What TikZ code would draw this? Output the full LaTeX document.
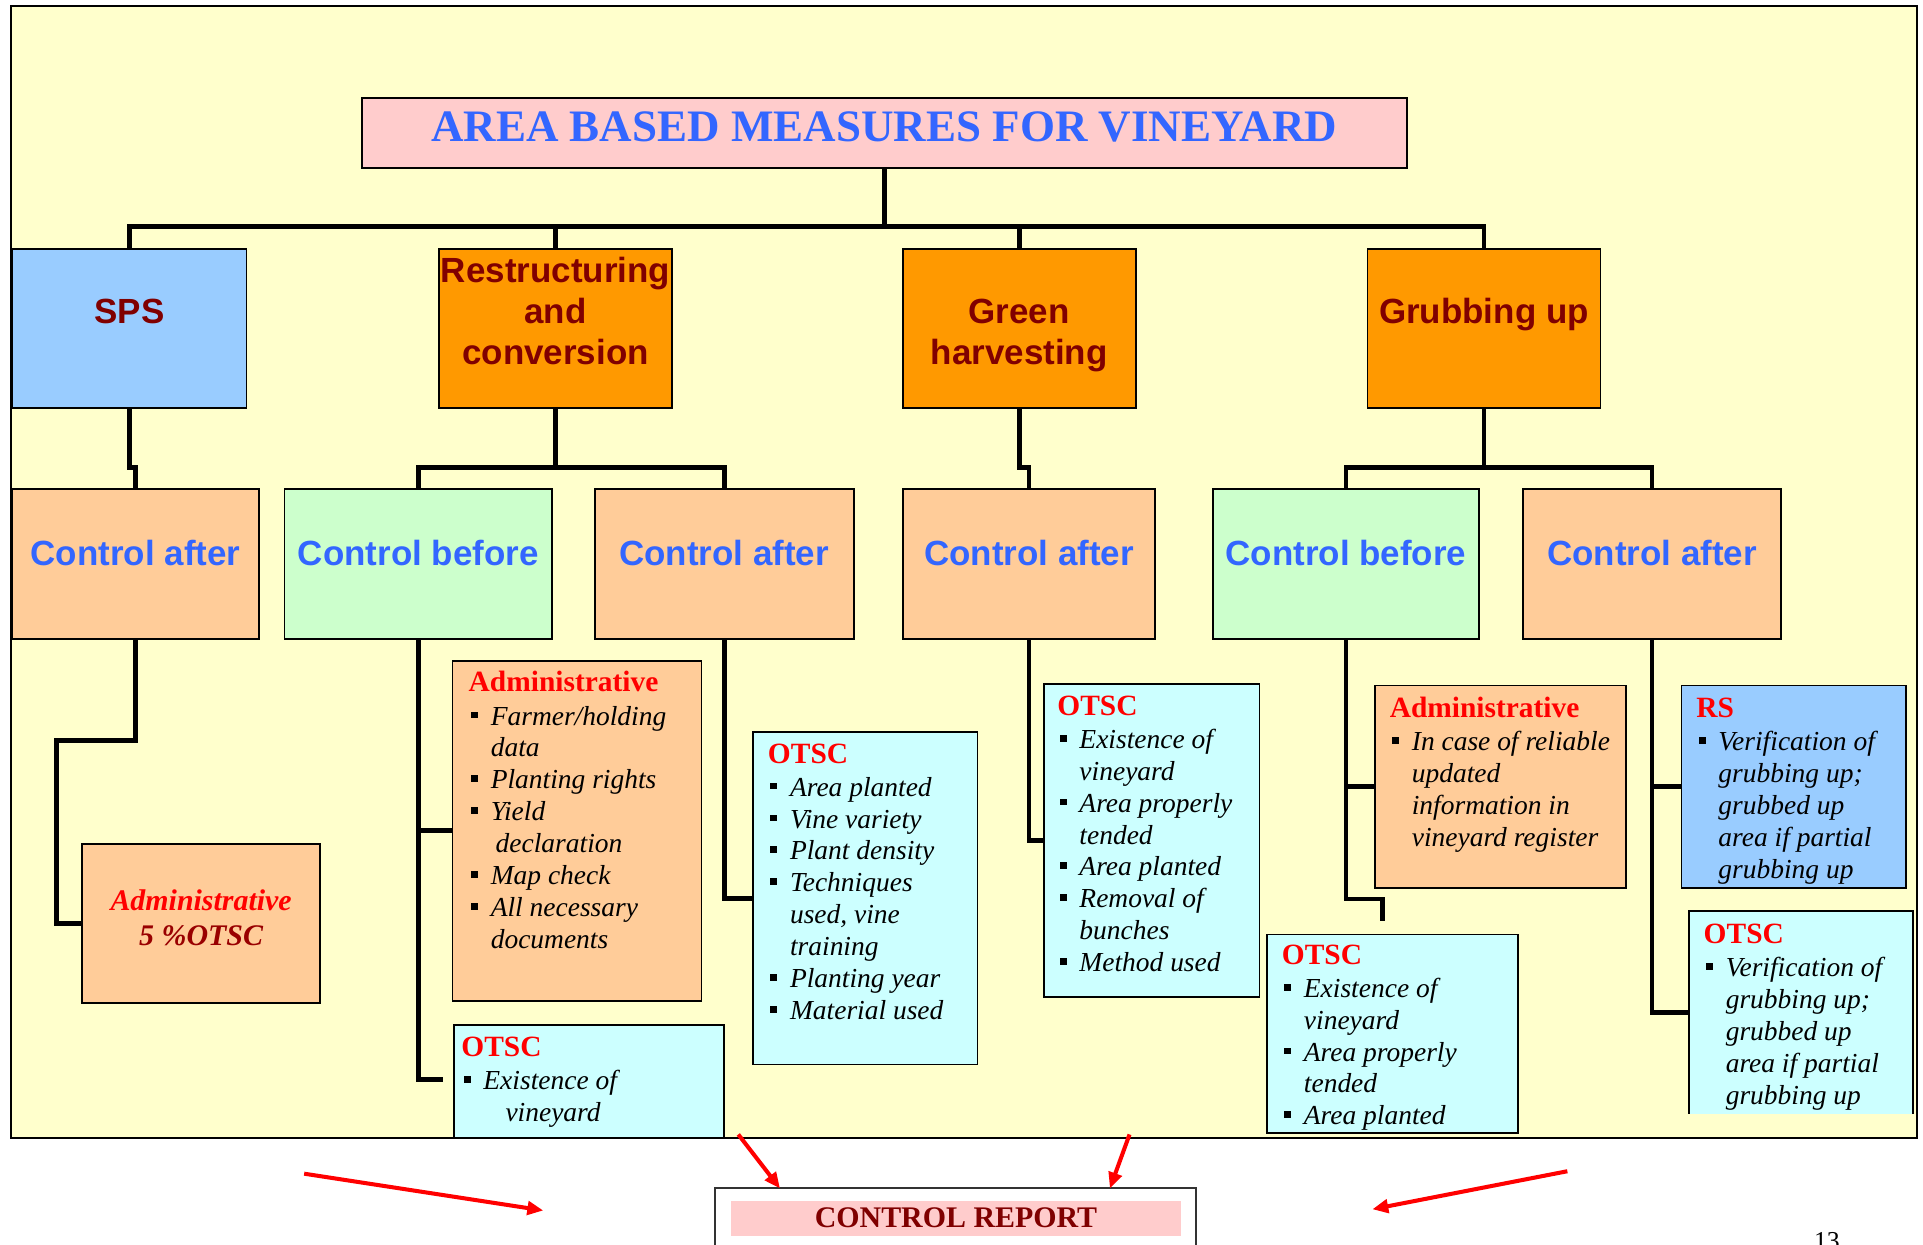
\documentclass[tikz,border=0pt]{standalone}
\usepackage{fontspec}
\setmainfont{Liberation Serif}
\newfontfamily\arialf{Liberation Sans}
\usetikzlibrary{arrows.meta}
\definecolor{bgy}{HTML}{FFFFCC}
\definecolor{pinkc}{HTML}{FFCCCC}
\definecolor{titleblue}{HTML}{3366FF}
\definecolor{skyc}{HTML}{99CCFF}
\definecolor{orangec}{HTML}{FF9900}
\definecolor{peachc}{HTML}{FFCC99}
\definecolor{mintc}{HTML}{CCFFCC}
\definecolor{cyanc}{HTML}{CCFFFF}
\definecolor{darkredc}{HTML}{800000}
\definecolor{darkredb}{HTML}{990000}
\definecolor{hdrred}{HTML}{FF0000}
\newcommand{\bul}{\makebox[18pt][l]{\hspace{2pt}\rule[5.5pt]{5.5pt}{5.5pt}}}
\newcommand{\ind}[1][18pt]{\hspace*{#1}}
\newcommand{\hdr}[1]{{\fontsize{24}{26}\selectfont\bfseries\upshape\color{hdrred}\rule{0pt}{18pt}#1}}
\newcommand{\bx}[6]{\node[#6, minimum width={(#4-#2)*1pt}, minimum height={(#5-#3)*1pt}] (#1) at ({(#2+#4)/2},{(#3+#5)/2}) {};}
\tikzset{
  bxs/.style={draw=black, line width=1.5pt, inner sep=0pt, outer sep=0pt},
  plain/.style={inner sep=0pt, outer sep=0pt},
  conn/.style={draw=black, line width=4pt},
  redarrow/.style={draw=red, line width=3.3pt, -{Triangle[length=13pt,width=11pt]}},
  lonet/.style={inner sep=0pt, align=center, text=darkredc, font=\arialf\fontsize{28.5}{33.5}\selectfont\bfseries},
  ltwot/.style={inner sep=0pt, anchor=base, text=titleblue, font=\arialf\fontsize{28.5}{33.5}\selectfont\bfseries},
  itx/.style={anchor=north west, align=left, inner sep=0pt, font=\fontsize{22.4}{26}\selectfont\itshape},
}
\begin{document}
\begin{tikzpicture}[x=1pt,y=-1pt]
\useasboundingbox (0,0) rectangle (1568,1015);
\clip (0,0) rectangle (1568,1015);
\fill[white] (0,0) rectangle (1568,1015);
% frame
\bx{frame}{9}{5}{1563}{928}{plain, fill=bgy}
% title
\bx{title}{295}{80}{1147}{137}{bxs, fill=pinkc}
\node[anchor=base, inner sep=0pt, text=titleblue, font=\fontsize{36.7}{40}\selectfont\bfseries] (titleT) at (721,115) {AREA BASED MEASURES FOR VINEYARD};
% level 1
\bx{sps}{10}{203}{201}{333}{bxs, fill=skyc}
\bx{rest}{358}{203}{548}{333}{bxs, fill=orangec}
\bx{green}{736}{203}{926}{333}{bxs, fill=orangec}
\bx{grub}{1115}{203}{1305}{333}{bxs, fill=orangec}
\node[lonet, anchor=base] (spsT) at (105.5,263.5) {SPS};
\node[lonet, anchor=north] (restT) at (453,208) {\rule{0pt}{22pt}Restructuring\\and\\conversion};
\node[lonet, anchor=north] (greenT) at (831,241.5) {\rule{0pt}{22pt}Green\\harvesting};
\node[lonet, anchor=base] (grubT) at (1210,263.5) {Grubbing up};
% level 2
\bx{caS}{10}{399}{211}{521}{bxs, fill=peachc}
\bx{cbR}{232}{399}{450}{521}{bxs, fill=mintc}
\bx{caR}{485}{399}{696}{521}{bxs, fill=peachc}
\bx{caG}{736}{399}{942}{521}{bxs, fill=peachc}
\bx{cbU}{989}{399}{1206}{521}{bxs, fill=mintc}
\bx{caU}{1242}{399}{1452}{521}{bxs, fill=peachc}
\node[ltwot] (caST) at (caS.center |- 0,461) {Control after};
\node[ltwot] (cbRT) at (cbR.center |- 0,461) {Control before};
\node[ltwot] (caRT) at (caR.center |- 0,461) {Control after};
\node[ltwot] (caGT) at (caG.center |- 0,461) {Control after};
\node[ltwot] (cbUT) at (cbU.center |- 0,461) {Control before};
\node[ltwot] (caUT) at (caU.center |- 0,461) {Control after};
% level 3 boxes
\bx{admS}{67}{688}{261}{818}{bxs, fill=peachc}
\bx{admR}{369}{539}{572}{816}{bxs, fill=peachc}
\bx{otR1}{370}{836}{590}{928}{bxs, fill=cyanc}
\bx{otR2}{614}{597}{797}{868}{bxs, fill=cyanc}
\bx{otG}{851}{558}{1027}{813}{bxs, fill=cyanc}
\bx{admU}{1121}{559}{1326}{724}{bxs, fill=peachc}
\bx{otU1}{1033}{762}{1238}{924}{bxs, fill=cyanc}
\bx{rsU}{1371}{559}{1554}{724}{bxs, fill=skyc}
\bx{otU2}{1377}{743}{1560}{908}{plain, fill=cyanc}
\draw[line width=1.5pt] (otU2.south west) -- (otU2.north west) -- (otU2.north east) -- (otU2.south east);
% level 3 texts
\node[anchor=north, align=center, inner sep=0pt, font=\fontsize{24.4}{29}\selectfont\bfseries\itshape] (admST) at (164,724) {\textcolor{hdrred}{\rule{0pt}{18pt}Administrative}\\\textcolor{darkredb}{5 \%OTSC}};
\node[itx] (admRT) at (382,546) {\hdr{Administrative}\\[1pt]
\bul Farmer/holding\\
\ind data\\
\bul Planting rights\\
\bul Yield\\
\ind[22pt]declaration\\
\bul Map check\\
\bul All necessary\\
\ind documents};
\node[itx] (otR1T) at (376,843) {\hdr{OTSC}\\[1pt]
\bul Existence of\\
\ind[36pt]vineyard};
\node[itx] (otR2T) at (626,604) {\hdr{OTSC}\\[1pt]
\bul Area planted\\
\bul Vine variety\\
\bul Plant density\\
\bul Techniques\\
\ind used, vine\\
\ind training\\
\bul Planting year\\
\bul Material used};
\node[itx] (otGT) at (862,565) {\hdr{OTSC}\\[1pt]
\bul Existence of\\
\ind vineyard\\
\bul Area properly\\
\ind tended\\
\bul Area planted\\
\bul Removal of\\
\ind bunches\\
\bul Method used};
\node[itx] (admUT) at (1133,567) {\hdr{Administrative}\\[1pt]
\bul In case of reliable\\
\ind updated\\
\ind information in\\
\ind vineyard register};
\node[itx] (otU1T) at (1045,768) {\hdr{OTSC}\\[1pt]
\bul Existence of\\
\ind vineyard\\
\bul Area properly\\
\ind tended\\
\bul Area planted};
\node[itx] (rsUT) at (1383,567) {\hdr{RS}\\[1pt]
\bul Verification of\\
\ind grubbing up;\\
\ind grubbed up\\
\ind area if partial\\
\ind grubbing up};
\node[itx] (otU2T) at (1389,751) {\hdr{OTSC}\\[1pt]
\bul Verification of\\
\ind grubbing up;\\
\ind grubbed up\\
\ind area if partial\\
\ind grubbing up};
% connectors
\coordinate (barY) at (0,185);
\coordinate (midY) at (0,381);
\draw[conn] (title.south) -- (title.south |- barY);
\draw[conn] (sps.north) -- (sps.north |- barY) -- (grub.north |- barY) -- (grub.north);
\draw[conn] (rest.north) -- (rest.north |- barY);
\draw[conn] (green.north) -- (green.north |- barY);
\draw[conn] (sps.south) -- (sps.south |- midY) -- (caS.north |- midY) -- (caS.north);
\draw[conn] (rest.south) -- (rest.south |- midY);
\draw[conn] (cbR.north) -- (cbR.north |- midY) -- (caR.north |- midY) -- (caR.north);
\draw[conn] (green.south) -- (green.south |- midY) -- (caG.north |- midY) -- (caG.north);
\draw[conn] (grub.south) -- (grub.south |- midY);
\draw[conn] (cbU.north) -- (cbU.north |- midY) -- (caU.north |- midY) -- (caU.north);
\coordinate (kS) at (46,604);
\draw[conn] (caS.south) |- (kS) |- (admS.west);
\coordinate (kR) at (361,880);
\draw[conn] (cbR.south) |- (kR);
\draw[conn] (cbR.south |- admR.west) -- (admR.west);
\draw[conn] (caR.south) |- (otR2.west);
\draw[conn] (caG.south) |- (otG.west);
\coordinate (kU1) at (1127,733);
\coordinate (kU2) at (1127,751);
\draw[conn] (cbU.south) |- (kU1) -- (kU2);
\draw[conn] (cbU.south |- admU.west) -- (admU.west);
\draw[conn] (caU.south) |- (otU2.west);
\draw[conn] (caU.south |- rsU.west) -- (rsU.west);
% frame border
\draw[line width=2.2pt] (frame.north west) rectangle (frame.south east);
% control report
\bx{reportO}{583}{969}{975}{1040}{bxs, draw=black!80, fill=white}
\bx{reportI}{596}{979}{963}{1008}{plain, fill=pinkc}
\node[anchor=base, inner sep=0pt, text=darkredc, font=\fontsize{24.4}{28}\selectfont\bfseries] (reportT) at (779.5,1000.5) {CONTROL REPORT};
% red arrows
\coordinate (a1s) at (248,957); \coordinate (a1e) at (443,987);
\coordinate (a2s) at (602,925); \coordinate (a2e) at (636,969);
\coordinate (a3s) at (921,925); \coordinate (a3e) at (905,969);
\coordinate (a4s) at (1278,955); \coordinate (a4e) at (1119,986);
\draw[redarrow] (a1s) -- (a1e);
\draw[redarrow] (a2s) -- (a2e);
\draw[redarrow] (a3s) -- (a3e);
\draw[redarrow] (a4s) -- (a4e);
% page number
\node[anchor=base west, inner sep=0pt, font=\fontsize{21}{21}\selectfont] (pg) at (1479,1019) {13};
\end{tikzpicture}
\end{document}
